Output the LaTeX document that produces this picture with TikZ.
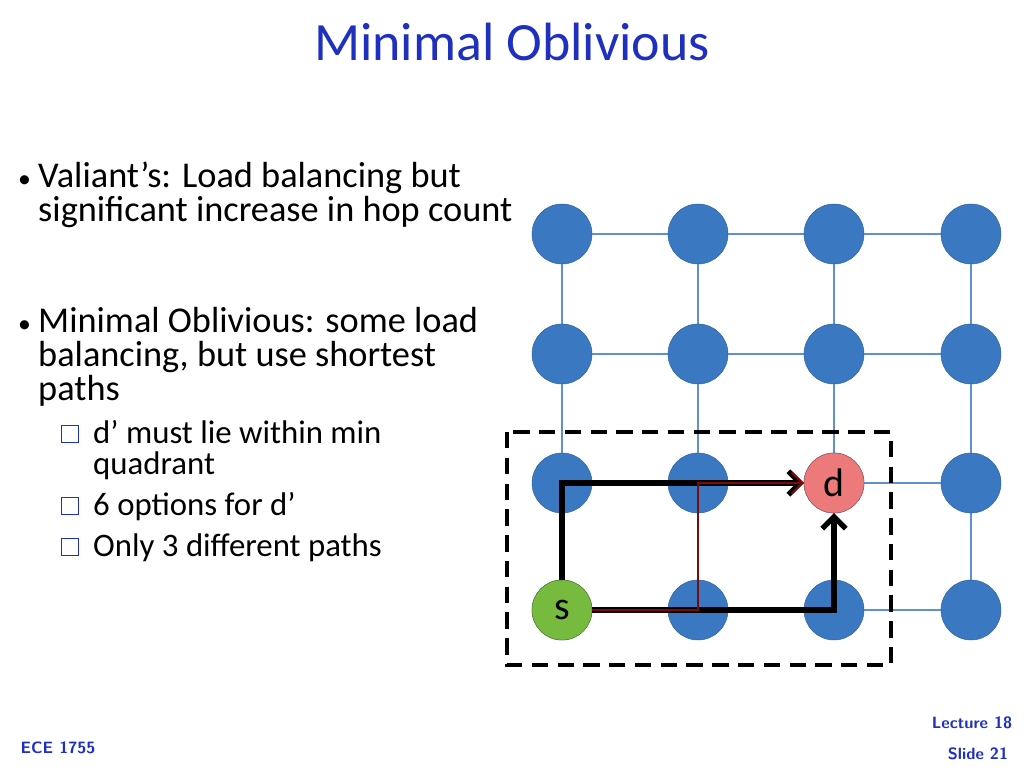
\documentclass[tikz,border=0pt]{standalone}
\usepackage{fontspec}
\setmainfont{Carlito}
\usetikzlibrary{positioning,backgrounds,arrows.meta}
\definecolor{nodeblue}{RGB}{58,120,194}
\definecolor{linkblue}{RGB}{95,145,205}
\definecolor{titleblue}{RGB}{32,48,190}
\definecolor{srcgreen}{RGB}{118,186,62}
\definecolor{dstpink}{RGB}{236,122,122}
\definecolor{pathred}{RGB}{125,10,10}
\begin{document}
\begin{tikzpicture}[x=0.03cm,y=-0.03cm]
	\tikzstyle{router}=[circle, minimum size=1.8cm, inner sep=0pt, fill=nodeblue, draw=nodeblue!80!black, thin]
	\tikzstyle{link}=[draw=linkblue, line width=1.8pt]
	\tikzstyle{route}=[black, line width=4.5pt]
	\tikzstyle{alt}=[pathred, line width=1.8pt]
	\tikzstyle{txt}=[anchor=base west, inner sep=0pt, font=\fontsize{31}{36}\selectfont]
	\tikzstyle{sub}=[anchor=base west, inner sep=0pt, font=\fontsize{28}{32}\selectfont]
	\tikzstyle{foot}=[inner sep=0pt, font=\sffamily\bfseries\fontsize{14}{16}\selectfont, text=titleblue]
	\useasboundingbox (0,0) rectangle (1024,768);
	% title
	\node[font=\fontsize{46}{52}\selectfont, text=titleblue] (title) at (512,42) {Minimal Oblivious};
	% bullets
	\node[txt, font=\fontsize{22}{26}\selectfont] (b1) at (18,188) {•};
	\node[txt] (l1) at (38,188) {Valiant’s: Load balancing but};
	\node[txt] (l2) at (38,222) {significant increase in hop count};
	\node[txt, font=\fontsize{22}{26}\selectfont] (b2) at (18,333) {•};
	\node[txt] (l3) at (38,333) {Minimal Oblivious: some load};
	\node[txt] (l4) at (38,367) {balancing, but use shortest};
	\node[txt] (l5) at (38,401) {paths};
	\foreach \y/\t [count=\i] in {444/{d’ must lie within min}, 475/quadrant, 516/{6 options for d’}, 557/{Only 3 different paths}}
		\node[sub] (s\i) at (93,\y) {\t};
	\foreach \y [count=\i] in {434,506,547}
		\node[draw=titleblue, thick, minimum size=0.5cm, inner sep=0pt] (box\i) at (70,\y) {};
	% mesh
	\foreach \x [count=\c] in {562,698,834,971}
		\foreach \y [count=\r] in {234,354,483,610}
			\node[router] (n\c\r) at (\x,\y) {};
	\node[router, fill=srcgreen, draw=srcgreen!70!black, font=\fontsize{34}{38}\selectfont] (s) at (n14) {s};
	\node[router, fill=dstpink, draw=dstpink!70!black, font=\fontsize{34}{38}\selectfont] (d) at (n33) {d};
	\begin{scope}[on background layer]
		\foreach \c in {1,...,4}
			\foreach \r/\q in {1/2,2/3,3/4}
				\draw[link] (n\c\r) -- (n\c\q) (n\r\c) -- (n\q\c);
	\end{scope}
	% quadrant
	\draw[black, line width=3pt, dash pattern=on 14pt off 8pt] (507,432) rectangle (891,665);
	% paths
	\draw[route, -{Straight Barb[length=10pt,width=20pt]}] (s.north) |- (d.west);
	\draw[route, -{Straight Barb[length=10pt,width=20pt]}] (s.east) -| (d.south);
	\draw[alt, -{Straight Barb[length=9pt,width=18pt]}] (s.east) -- (n24.center) |- (d.west);
	% footer
	\node[foot] (course) at (58,748) {ECE 1755};
	\node[foot] (lec) at (972,723) {Lecture 18};
	\node[foot] (slide) at (978,754) {Slide 21};
\end{tikzpicture}
\end{document}
